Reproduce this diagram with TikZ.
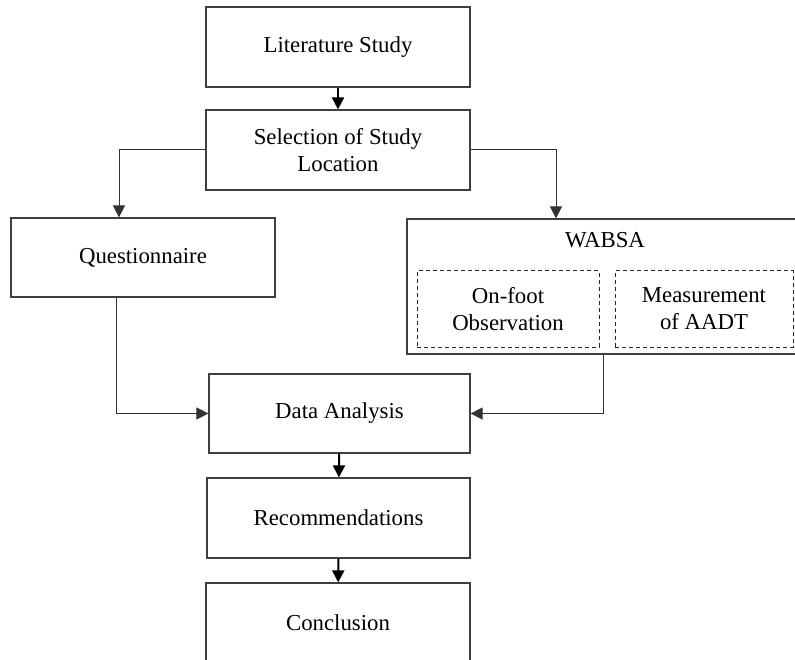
\documentclass[tikz,border=0pt]{standalone}
\usepackage{fontspec}
\setmainfont{Liberation Serif}
\usetikzlibrary{arrows.meta}
\tikzset{
  box/.style={draw=black!75, line width=1.2pt, fill=white, align=center, inner sep=0pt,
    font=\fontsize{22.8}{27}\selectfont},
  dbox/.style={box, draw=black!85, line width=1pt, dash pattern=on 4pt off 3pt},
  lbl/.style={inner sep=0pt, font=\fontsize{22.8}{27}\selectfont},
  arr/.style={draw=black!80, line width=1pt, -{Triangle[length=12pt,width=12pt]}},
  thickarr/.style={arr, draw=black, line width=2pt, -{Triangle[length=12pt,width=12pt]}},
}
\begin{document}
\begin{tikzpicture}[x=1pt,y=-1pt]
\useasboundingbox (0,0) rectangle (795,660);
\clip (0,0) rectangle (795,660);
\node[box, minimum width=264pt, minimum height=80pt] (lit) at (338,47) {Literature Study};
\node[box, minimum width=264pt, minimum height=80pt] (sel) at (338,150) {Selection of Study\\Location};
\node[box, minimum width=264pt, minimum height=79pt] (quest) at (143,257.5) {Questionnaire};
\node[box, minimum width=393pt, minimum height=135pt] (wabsa) at (603.5,286.5) {};
\node[lbl] (wabsat) at (605,240) {WABSA};
\node[dbox, minimum width=182pt, minimum height=76pt] (onfoot) at (508,309) {On-foot\\Observation};
\node[dbox, minimum width=178pt, minimum height=76pt] (aadt) at (704,309) {Measurement\\of AADT};
\node[box, minimum width=261pt, minimum height=79pt] (data) at (339.5,413.5) {Data Analysis};
\node[box, minimum width=263pt, minimum height=80pt] (rec) at (338.5,518) {Recommendations};
\node[box, minimum width=264pt, minimum height=80pt] (conc) at (338,623) {Conclusion};
\draw[thickarr] (lit) -- (sel);
\draw[arr] (sel.west) -| ([xshift=-24pt]quest.north);
\draw[arr] (sel.east) -| ([xshift=-47.5pt]wabsa.north);
\draw[arr] ([xshift=-27pt]quest.south) |- (data.west);
\draw[arr] (wabsa.south) |- (data.east);
\draw[thickarr] (data) -- (rec);
\draw[thickarr] (rec) -- (conc);
\end{tikzpicture}
\end{document}
